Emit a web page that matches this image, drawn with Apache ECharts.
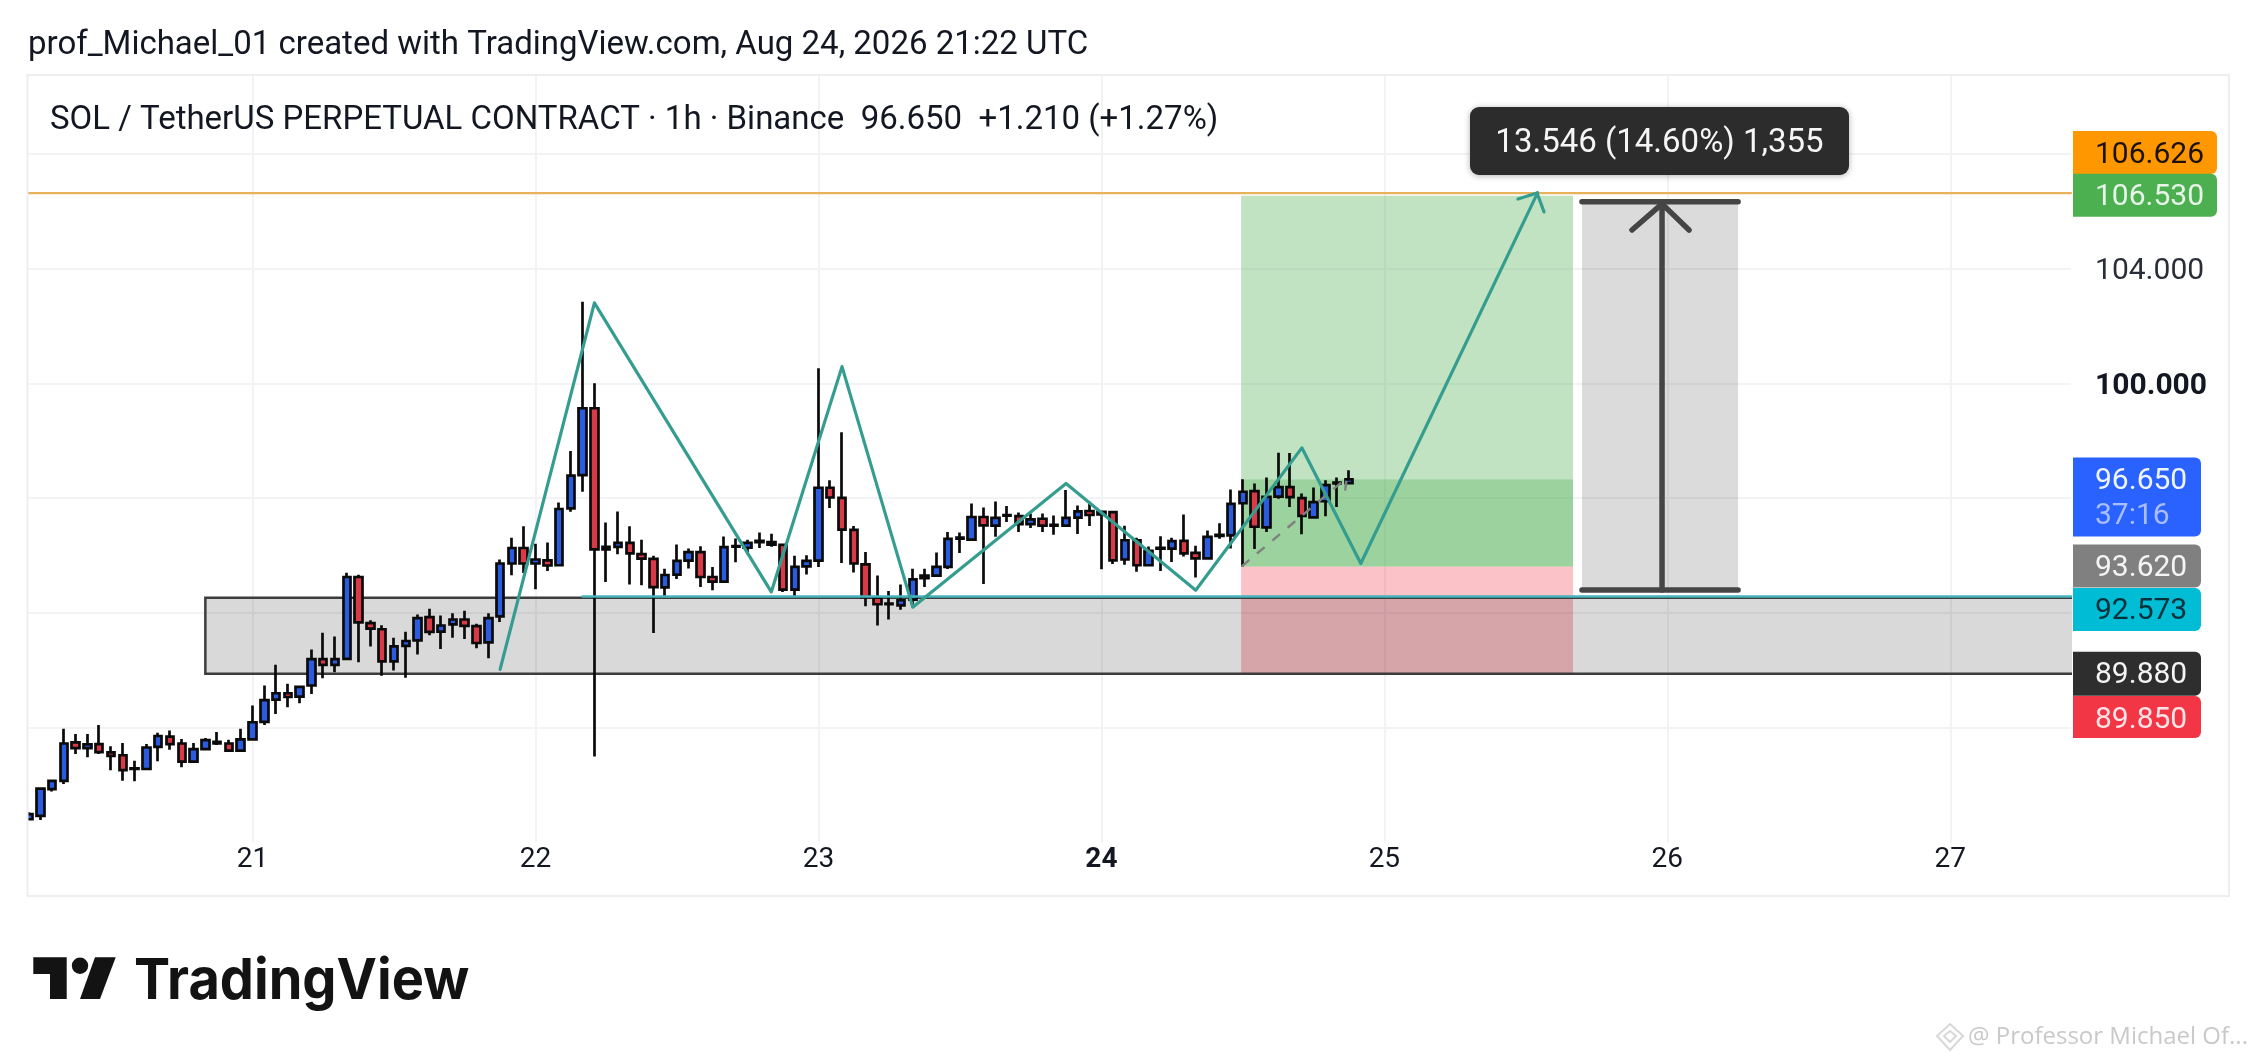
<!DOCTYPE html>
<html><head><meta charset="utf-8">
<style>html,body{margin:0;padding:0;background:#fff}#c{width:2258px;height:1062px}</style>
<script src="https://cdn.jsdelivr.net/npm/echarts@6/dist/echarts.min.js"></script>
</head><body><div id="c"></div>
<script>
const candleHours=[5,6,7,8,9,10,11,12,13,14,15,16,17,18,19,20,21,22,23,24,25,26,27,28,29,30,31,32,33,34,35,36,37,38,39,40,41,42,43,44,45,46,47,48,49,50,51,52,53,54,55,56,57,58,59,60,61,62,63,64,65,66,67,68,69,70,71,72,73,74,75,76,77,78,79,80,81,82,83,84,85,86,87,88,89,90,91,92,93,94,95,96,97,98,99,100,101,102,103,104,105,106,107,108,109,110,111,112,113,114,115,116,117];
const opens=[84.81,84.93,85.86,86.15,87.49,87.29,87.43,87.14,87.04,86.58,86.56,87.33,87.69,87.45,86.82,87.25,87.45,87.45,87.20,87.59,88.20,88.98,89.20,89.08,89.47,90.39,90.19,90.40,93.25,91.64,91.43,90.31,90.85,91.04,91.85,91.35,91.60,91.77,91.54,90.97,91.88,93.72,94.26,93.72,93.83,93.66,95.64,96.80,99.13,94.30,94.30,94.44,94.05,93.88,92.89,93.33,93.82,94.12,93.25,93.09,94.31,94.27,94.46,94.47,94.37,92.81,93.62,93.82,96.36,96.01,94.89,93.69,92.53,92.32,92.26,92.46,93.21,93.30,93.60,94.59,94.55,95.34,95.04,95.39,95.37,95.09,95.28,95.04,95.04,95.32,95.55,95.52,95.51,93.86,94.53,93.66,94.24,94.24,94.51,94.09,93.90,94.68,94.70,95.82,96.24,94.98,96.05,96.38,96.00,95.33,95.89,96.51,96.52];
const closes=[84.99,85.88,86.15,87.45,87.29,87.42,87.15,87.02,86.52,86.56,87.31,87.71,87.43,86.82,87.25,87.57,87.51,87.20,87.59,88.19,88.96,89.20,89.07,89.42,90.39,90.19,90.39,93.25,91.67,91.45,90.31,90.83,91.02,91.82,91.34,91.56,91.77,91.55,90.95,91.82,93.72,94.26,93.72,93.86,93.65,95.62,96.78,99.13,94.21,94.21,94.44,94.07,93.89,92.90,93.32,93.81,94.12,93.25,93.09,94.29,94.33,94.44,94.51,94.38,92.81,93.60,93.81,96.36,96.02,94.90,93.72,92.55,92.30,92.30,92.44,93.17,93.30,93.60,94.58,94.62,95.34,95.05,95.31,95.41,95.09,95.26,95.04,95.07,95.31,95.54,95.41,95.43,93.83,94.53,93.66,94.16,94.27,94.50,94.07,93.90,94.65,94.72,95.80,96.22,95.00,96.04,96.38,96.03,95.38,95.86,96.45,96.54,96.65];
const lows=[84.78,84.78,85.78,86.04,87.08,86.97,87.08,86.52,86.15,86.13,86.56,86.83,87.23,86.62,86.82,87.22,87.40,87.20,87.20,87.57,88.09,88.48,88.71,88.85,89.17,89.72,89.93,90.36,90.28,90.83,89.81,89.99,89.74,90.55,91.22,90.74,91.13,91.09,90.77,90.42,91.68,93.31,93.39,92.82,93.46,93.66,95.52,96.22,87.00,93.08,94.04,92.99,92.96,91.30,92.58,93.18,93.55,92.90,92.79,93.09,93.76,94.04,94.26,94.30,92.73,92.59,93.34,93.60,95.65,93.74,93.41,92.23,91.56,91.77,92.11,92.20,92.90,93.30,93.53,94.09,94.55,93.01,94.65,95.17,94.82,94.96,94.82,94.72,95.04,94.75,95.03,93.52,93.70,93.68,93.43,93.66,93.46,93.77,93.96,93.23,93.90,94.58,94.24,93.62,94.23,94.82,95.98,95.69,94.74,95.33,95.37,95.69,96.52];
const highs=[85.05,85.88,86.18,87.96,87.78,87.78,88.09,87.35,87.47,86.85,87.43,87.82,87.90,87.61,87.47,87.64,87.85,87.58,87.96,88.77,89.47,90.19,89.53,89.42,90.72,91.31,91.18,93.40,93.33,91.74,91.57,91.13,91.34,91.94,92.14,91.91,91.99,92.07,91.62,91.99,93.86,94.62,95.02,94.41,94.45,95.85,97.64,102.84,100.00,95.15,95.53,95.02,94.55,93.99,93.54,94.38,94.24,94.32,93.60,94.66,94.59,94.55,94.80,94.76,94.37,93.99,94.01,100.52,96.62,98.29,95.03,94.12,93.30,92.76,92.99,93.54,93.54,94.10,94.82,94.80,95.81,95.67,95.88,95.72,95.50,95.46,95.46,95.39,96.28,95.74,95.87,95.52,95.51,95.04,94.62,94.31,94.67,94.62,95.43,94.34,94.87,95.12,96.30,96.66,96.51,96.72,97.58,97.57,96.16,96.37,96.62,96.72,96.97];

// pattern drawn over the candles: [hour, price]
const patternPath=[[45,90.03],[53,102.80],[68,92.73],[74,100.58],[80,92.20],[93,96.51],[104,92.79],[113,97.75],[118,93.72],[133,106.64]];
const patternHead=[[131.33,106.42],[132.95,106.63],[133.54,105.97]];
const tradePath=[[107.9,93.62],[116.8,96.7],[116.6,96.0]];
const targetLine=106.626, supportLine=92.573, supportStart=52;
// price zones: [hour start, hour end, price top, price bottom]
const grayZone=[[20,182,92.53,89.88]];
const pinkZone=[[107.85,136,93.62,89.85]];
const profitZone=[[107.85,136,106.53,93.62]];
const runningZone=[[107.85,136,96.65,93.62]];
const measureZone=[[136.76,150,106.32,92.80]];
const measureParts=[
 [[136.76,106.32],[150,106.32]],
 [[136.76,92.80],[150,92.80]],
 [[143.55,106.25],[143.55,92.80]],
 [[141,105.34],[143.55,106.25],[145.84,105.34]]
];
const dayTicks={24:'21',48:'22',72:'23',96:'24',120:'25',144:'26',168:'27'};
const priceTicks={108:'108.000',104:'104.000',100:'100.000',96:'96.000',92:'92.000',88:'88.000'};
// right-hand price tags
const tagPrices=[106.626,106.53,96.65,93.62,92.573,89.88,89.85];
const tagTexts=['106.626','106.530','96.650','93.620','92.573','89.880','89.850'];
const tagSubs=['','','37:16','','','',''];
const tagFills=['#ff9800','#4caf50','#2962ff','#808080','#00bcd4','#2e2e2e','#f23645'];
const tagInks=['#1c1208','#e6f5e7','#f0f4ff','#f4f4f4','#06303a','#f4f4f4','#fde4e6'];
const tagTops=[-62,-22,-22,-22,-8.5,-22,21.5];
const tagHeights=[43,43,79,43,43,44,42];
const tagWidths=[144,144,128,128,128,128,128];

const FONT='Roboto';
const xMax=178.24;
const lineSeries=(data,color,width,z,extra)=>Object.assign({type:'line',data,showSymbol:false,symbol:'none',silent:true,animation:false,z,clip:true,
  lineStyle:{color,width,cap:'round',join:'round'}},extra||{});
function zoneSeries(data,fill,z,edge){return {type:'custom',data,silent:true,animation:false,z,clip:true,
  encode:{x:[0,1],y:[2,3]},
  renderItem(p,api){
    const a=api.coord([api.value(0),api.value(2)]),b=api.coord([api.value(1),api.value(3)]);
    return {type:'rect',shape:{x:a[0],y:a[1],width:b[0]-a[0],height:b[1]-a[1]},
      style:{fill,stroke:edge||null,lineWidth:edge?2.5:0}};
  }};}
const option={
 backgroundColor:'#ffffff',animation:false,
 grid:{left:-30.46,top:75,width:2101.5,height:767.5,containLabel:false,outerBoundsMode:'none'},
 xAxis:{type:'value',min:0,max:xMax,interval:24,axisLine:{show:false},axisTick:{show:false},
   splitLine:{show:true,showMinLine:false,showMaxLine:false,lineStyle:{color:'#f2f3f5',width:2}},
   axisLabel:{show:true,margin:2,hideOverlap:false,showMinLabel:false,showMaxLabel:false,
     formatter:v=>{const t=dayTicks[v];return !t?'':(v===96?'{b|'+t+'}':'{n|'+t+'}');},
     rich:{n:{fontFamily:FONT,fontSize:28,color:'#131722',lineHeight:30},b:{fontFamily:FONT,fontSize:28,fontWeight:'bold',color:'#131722',lineHeight:30}}}},
 yAxis:{type:'value',position:'right',min:84,max:110.74,interval:4,axisLine:{show:false},axisTick:{show:false},
   splitLine:{show:true,showMinLine:false,showMaxLine:false,lineStyle:{color:'#f2f3f5',width:2}},
   axisLabel:{show:true,margin:24,align:'left',showMinLabel:false,showMaxLabel:false,
     formatter:v=>{const t=priceTicks[v];return !t?'':(v===100?'{b|'+t+'}':'{n|'+t+'}');},
     rich:{n:{fontFamily:FONT,fontSize:30,color:'#2a2e39',padding:[6,0,0,0]},b:{fontFamily:FONT,fontSize:30,fontWeight:'bold',color:'#131722',padding:[6,0,0,0]}}}},
 series:[
  zoneSeries(pinkZone,'rgba(242,54,69,0.30)',1),
  zoneSeries(grayZone,'rgba(0,0,0,0.15)',2,'#3c3c3c'),
  zoneSeries(profitZone,'rgba(76,175,80,0.35)',2),
  zoneSeries(runningZone,'rgba(76,175,80,0.32)',2),
  zoneSeries(measureZone,'rgba(0,0,0,0.14)',2),
  {type:'candlestick',z:3,silent:true,animation:false,clip:true,barWidth:8,
   data:candleHours.map((h,i)=>[h,opens[i],closes[i],lows[i],highs[i]]),
   itemStyle:{color:'#2b5ce0',color0:'#d93a47',borderColor:'#0a0a0a',borderColor0:'#0a0a0a',borderColorDoji:'#0a0a0a',borderWidth:2.7}},
  lineSeries(tradePath,'#808080',2.4,4,{lineStyle:{color:'#808080',width:2.4,type:[10,10]}}),
  lineSeries([[0,targetLine],[xMax,targetLine]],'#e8b25a',2.2,4),
  lineSeries([[supportStart,supportLine],[xMax,supportLine]],'#45b4bd',2.4,4),
  lineSeries(patternPath,'#359d8f',3.2,5),
  lineSeries(patternHead,'#359d8f',3.2,5),
  ...measureParts.map(d=>lineSeries(d,'#454545',5.5,6)),
  {type:'custom',z:20,silent:true,animation:false,clip:false,
   data:tagPrices.map(p=>[xMax,p]),encode:{x:0,y:1},
   renderItem(p,api){
     const i=p.dataIndex,c=api.coord([api.value(0),api.value(1)]);
     const top=c[1]+tagTops[i],x=2073,h=tagHeights[i];
     const kids=[{type:'rect',shape:{x,y:top,width:tagWidths[i],height:h,r:[0,6,6,0]},style:{fill:tagFills[i]}},
       {type:'text',style:{x:2095,y:top+24,text:tagTexts[i],fill:tagInks[i],font:'30px '+FONT,textVerticalAlign:'middle'}}];
     if(tagSubs[i])kids.push({type:'text',style:{x:2095,y:top+59,text:tagSubs[i],fill:'#a9bdff',font:'30px '+FONT,textVerticalAlign:'middle'}});
     return {type:'group',children:kids};
   }}
 ],
 graphic:[
  {type:'rect',z:50,shape:{x:0,y:70,width:27,height:780},style:{fill:'#ffffff'}},
  {type:'rect',z:51,shape:{x:27.5,y:75,width:2201.5,height:821},style:{fill:'none',stroke:'#eeeeee',lineWidth:2}},
  {type:'text',z:52,style:{x:28,y:45.5,text:'prof_Michael_01 created with TradingView.com, Aug 24, 2026 21:22 UTC',fill:'#131722',font:'33px '+FONT,textVerticalAlign:'middle'}},
  {type:'text',z:52,style:{x:50,y:120.5,text:'SOL / TetherUS PERPETUAL CONTRACT · 1h · Binance  96.650  +1.210 (+1.27%)',fill:'#131722',font:'33px '+FONT,textVerticalAlign:'middle'}},
  {type:'rect',z:60,shape:{x:1470,y:107,width:379,height:68,r:9},style:{fill:'#2c2c2c',shadowBlur:6,shadowColor:'rgba(0,0,0,0.3)',shadowOffsetY:1}},
  {type:'text',z:61,style:{x:1659.5,y:144,text:'13.546 (14.60%) 1,355',fill:'#f5f5f5',font:'33px '+FONT,textAlign:'center',textVerticalAlign:'middle'}},
  // TradingView mark
  {type:'polygon',z:52,shape:{points:[[33.3,957.3],[66.7,957.3],[66.7,999],[50,999],[50,974],[33.3,974]]},style:{fill:'#131313'}},
  {type:'circle',z:52,shape:{cx:80,cy:965.7,r:8.2},style:{fill:'#131313'}},
  {type:'polygon',z:52,shape:{points:[[95,957.3],[115.7,957.3],[100,999],[80,999]]},style:{fill:'#131313'}},
  {type:'text',z:52,x:134,y:1010,scaleX:0.95,style:{x:0,y:0,text:'TradingView',fill:'#131313',font:'700 57px Inter',textVerticalAlign:'bottom'}},
  // watermark
  {type:'polygon',z:52,shape:{points:[[1950,1024],[1963,1036],[1950,1050],[1937,1036]]},style:{fill:'none',stroke:'#d8d8d8',lineWidth:2}},
  {type:'polygon',z:52,shape:{points:[[1950,1031],[1956,1036],[1950,1042],[1944,1036]]},style:{fill:'none',stroke:'#d8d8d8',lineWidth:2}},
  {type:'text',z:52,style:{x:1968,y:1037,text:'@ Professor Michael Of...',fill:'#c9c9c9',font:'24px "Open Sans"',textVerticalAlign:'middle'}}
 ]
};
const chart=echarts.init(document.getElementById('c'),null,{width:2258,height:1062,renderer:'canvas'});
chart.setOption(option);
</script></body></html>
